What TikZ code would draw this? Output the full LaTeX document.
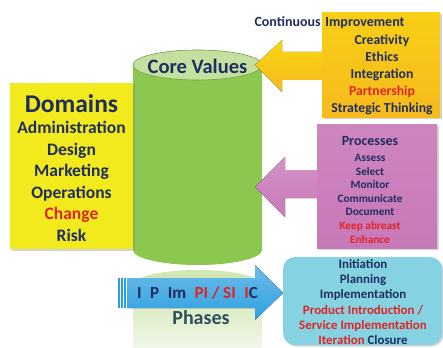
\documentclass[tikz,border=0pt]{standalone}
\usepackage{fontspec}
\setmainfont{Carlito}
\usetikzlibrary{shadows}

\definecolor{navy}{HTML}{1F2D5F}
\definecolor{alert}{HTML}{E02424}
\definecolor{domainfill}{HTML}{F3EA1E}
\definecolor{cylbody}{HTML}{8CC850}
\definecolor{cyltop}{HTML}{C4E0A0}
\definecolor{valuefill}{HTML}{F6BA1E}
\definecolor{processfill}{HTML}{C878B8}
\definecolor{phasefill}{HTML}{84D2E2}
\definecolor{phasearrow}{HTML}{2E9FE0}
\definecolor{phasetext}{HTML}{2E4E5C}

\begin{document}
\begin{tikzpicture}[x=1pt,y=-1pt,font=\bfseries,text=navy,
    box/.style={drop shadow={opacity=0.35,shadow xshift=1.5pt,shadow yshift=-1.5pt}},
    lines/.style={align=center,inner sep=0pt}]
  \useasboundingbox (0,0) rectangle (443,347);

  % reflection under the cylinder
  \fill[top color=cyltop!80,bottom color=cyltop!25] (133,285) rectangle (262,347);
  \fill[cyltop!80] (197.5,285) ellipse [x radius=64.5, y radius=15];

  % cylinder
  \fill[cylbody] (133,65) rectangle (262,250);
  \fill[cylbody] (197.5,250) ellipse [x radius=64.5, y radius=15];
  \filldraw[fill=cyltop,draw=cylbody!80!black,line width=0.6pt] (197.5,65) ellipse [x radius=64.5, y radius=15];
  \node (core) at (197.5,66) {\fontsize{20.5}{20.5}\selectfont Core Values};

  % domains
  \node[box,fill=domainfill,minimum width=123pt,minimum height=166pt] (domains) at (71.5,166) {};
  \node[lines,font=\fontsize{17.5}{21.5}\selectfont\bfseries] (domaintext) at (71.5,168)
    {{\fontsize{25.5}{25.5}\selectfont Domains}\\[0pt]
     Administration\\Design\\Marketing\\Operations\\{\color{alert}Change}\\Risk};

  % arrows into the cylinder
  \fill[top color=valuefill!60!yellow,bottom color=valuefill] (255,65) -- (282,40) -- (282,52) -- (322,52)
    -- (322,80) -- (282,80) -- (282,92) -- cycle;
  \fill[top color=processfill!80!white,bottom color=processfill] (255,187) -- (285,157) -- (285,170) -- (317,170)
    -- (317,198) -- (285,198) -- (285,217) -- cycle;

  % core values box
  \node[box,top color=valuefill!70!yellow,bottom color=valuefill,minimum width=118pt,minimum height=105pt] (values) at (381,65.5) {};
  \node[inner sep=0pt,font=\fontsize{14}{14}\selectfont\bfseries] (continuous) at (329.5,23) {Continuous\,\,Improvement};
  \node[lines,font=\fontsize{13.7}{17}\selectfont\bfseries] (valuetext) at (382,75)
    {Creativity\\Ethics\\Integration\\{\color{alert}Partnership}\\Strategic Thinking};

  % processes box
  \node[box,top color=processfill!90!white,bottom color=processfill,minimum width=120pt,minimum height=123pt] (processes) at (377,186.5) {};
  \node[lines,font=\fontsize{11.3}{13.6}\selectfont\bfseries] (processtext) at (370,190)
    {{\fontsize{14}{14}\selectfont Processes}\\[2pt]
     Assess\\Select\\Monitor\\Communicate\\Document\\{\color{alert}Keep abreast}\\{\color{alert}Enhance}};

  % phases arrow
  \fill[top color=phasearrow!70!white,bottom color=phasearrow] (127,278) -- (255,278) -- (255,265) -- (283,293)
    -- (255,320) -- (255,308) -- (127,308) -- cycle;
  \foreach \x in {118,121,124}
    \fill[phasearrow] (\x,278) rectangle ++(1.6,30);
  \node[font=\fontsize{17}{17}\selectfont\bfseries] (phaseletters) at (197.5,293)
    {I\,\,\,P\,\,\,Im\,\,\,{\color{alert}PI / SI\,\,\,I}C};
  \node[text=phasetext] (phases) at (201,318) {\fontsize{20}{20}\selectfont Phases};

  % phases box
  \node[box,fill=phasefill,rounded corners=12pt,minimum width=159pt,minimum height=88pt] (phasebox) at (362.5,301) {};
  \node[lines,font=\fontsize{12.9}{15.2}\selectfont\bfseries] (phasetext) at (363,302)
    {Initiation\\Planning\\Implementation\\{\color{alert}Product Introduction /}\\
     {\color{alert}Service Implementation}\\{\color{alert}Iteration} Closure};
\end{tikzpicture}
\end{document}
